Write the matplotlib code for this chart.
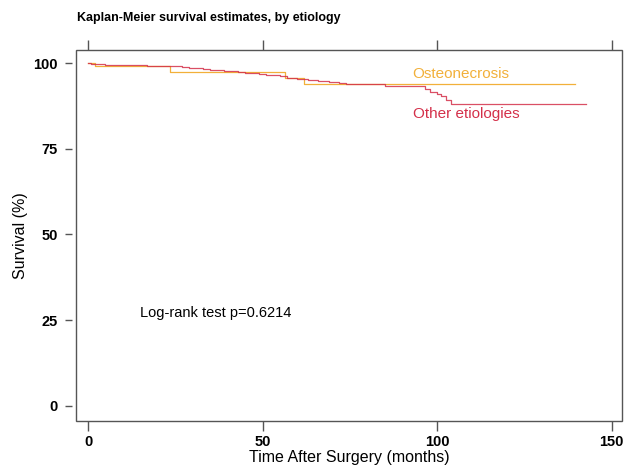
import numpy as np
import matplotlib
matplotlib.use("Agg")
import matplotlib.pyplot as plt
from matplotlib.patches import Rectangle

plt.rcParams['font.family'] = ['Liberation Sans', 'DejaVu Sans']

# Kaplan-Meier step points (months, survival %)
osteo_t = [0, 2, 23.5, 56.5, 62, 139.5]
osteo_s = [100, 99.0, 97.4, 95.5, 93.9, 93.9]

other_t = [0, 1, 2.5, 5, 9, 13, 17, 21, 24, 27, 29, 31, 33, 35, 37, 39, 41,
           43, 45, 47, 49, 51, 53, 55, 57, 60, 63, 66, 69, 72, 74, 85, 96.5,
           98, 100, 101, 102.5, 104, 142.6]
other_s = [100, 99.8, 99.6, 99.5, 99.4, 99.3, 99.2, 99.1, 99.0, 98.8, 98.6,
           98.4, 98.25, 98.1, 97.95, 97.8, 97.6, 97.4, 97.2, 97.0, 96.8, 96.6,
           96.4, 96.1, 95.6, 95.3, 95.0, 94.8, 94.6, 94.2, 93.9, 93.4, 92.4,
           91.6, 91.1, 90.4, 89.1, 88.0, 88.0]

x_ticks = [0, 50, 100, 150]
y_ticks = [0, 25, 50, 75, 100]

orange = '#F2B03A'
red = '#D4304A'

fig = plt.figure(figsize=(6.26, 4.68), dpi=100)
ax = fig.add_axes([0.1214, 0.1004, 0.8722, 0.7928])

ax.step(osteo_t, osteo_s, where='post', color=orange, lw=0.9)
ax.step(other_t, other_s, where='post', color=red, lw=0.9, alpha=0.85)

ax.set_xlim(-3.44, 153.0)
ax.set_ylim(-4.4, 103.8)
ax.set_xticks(x_ticks)
ax.set_yticks(y_ticks)

# detached ticks like Stata: hide spines, draw frame separately
for s in ['left', 'right', 'top', 'bottom']:
    ax.spines[s].set_visible(False)
ax.spines['left'].set_position(('outward', 3))
ax.add_patch(Rectangle((0, 0), 1, 1, transform=ax.transAxes, fill=False,
                       edgecolor='#555555', lw=1.0, clip_on=False))

ax.tick_params(axis='y', direction='out', length=5, width=1, color='#555555',
               pad=5, labelsize=10.5)
ax.tick_params(axis='x', direction='out', length=7, width=1, color='#555555',
               pad=3, labelsize=10.5, top=True, labeltop=False)
for lab in ax.get_xticklabels() + ax.get_yticklabels():
    lab.set_fontweight('bold')

ax.set_xlabel('Time After Surgery (months)', fontsize=11.5, labelpad=1)
ax.set_ylabel('Survival (%)', fontsize=11.5, labelpad=4)

ax.text(93, 96.8, 'Osteonecrosis', color=orange, fontsize=11, va='center')
ax.text(93, 85.1, 'Other etiologies', color=red, fontsize=11, va='center')
ax.text(15, 27.1, 'Log-rank test p=0.6214', color='black', fontsize=10.5, va='center')

fig.text(77 / 626, 1 - 18 / 468, 'Kaplan-Meier survival estimates, by etiology',
         fontsize=9, fontweight='bold', va='center', ha='left')

fig.savefig('out.png', dpi=100)
